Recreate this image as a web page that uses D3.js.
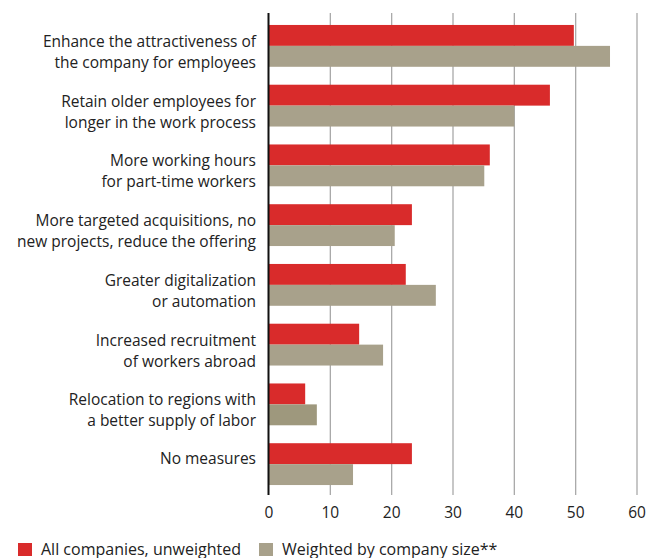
<!DOCTYPE html>
<html>
<head>
<meta charset="utf-8">
<script src="https://cdn.jsdelivr.net/npm/d3@7"></script>
<style>
  html, body { margin: 0; padding: 0; background: #fff; }
  svg { display: block; font-family: "Open Sans", "Noto Sans", sans-serif; }
</style>
</head>
<body>
<svg id="chart" width="648" height="558"></svg>
<script>
// Measures taken by companies (share of companies, %)
const categories = [
  ["Enhance the attractiveness of", "the company for employees"],
  ["Retain older employees for", "longer in the work process"],
  ["More working hours", "for part-time workers"],
  ["More targeted acquisitions, no", "new projects, reduce the offering"],
  ["Greater digitalization", "or automation"],
  ["Increased recruitment", "of workers abroad"],
  ["Relocation to regions with", "a better supply of labor"],
  ["No measures"]
];
const unweighted = [49.7, 45.8, 36.0, 23.3, 22.3, 14.7, 5.9, 23.3];
const weighted   = [55.6, 40.0, 35.1, 20.5, 27.2, 18.6, 7.8, 13.7];
const seriesNames = ["All companies, unweighted", "Weighted by company size**"];
const xTicks = [0, 10, 20, 30, 40, 50, 60];

const RED = "#d92b2b";
const TAUPE = "#a8a18b";

const svg = d3.select("#chart");
const x = d3.scaleLinear().domain([0, 60]).range([269, 637]);
const idx = d3.range(categories.length);
const y0 = d3.scaleBand().domain(idx).range([16, 494]).paddingInner(0.3).paddingOuter(0.15);
const y1 = d3.scaleBand().domain([0, 1]).range([0, y0.bandwidth()]);

// vertical gridlines
svg.append("g")
  .selectAll("line")
  .data(xTicks.filter(d => d > 0))
  .join("line")
  .attr("x1", d => x(d)).attr("x2", d => x(d))
  .attr("y1", 13).attr("y2", 495)
  .attr("stroke", "#a9a9a9").attr("stroke-width", 1.3);

// bars
const groups = svg.append("g")
  .selectAll("g")
  .data(idx)
  .join("g")
  .attr("transform", i => `translate(0,${y0(i)})`);

groups.append("rect")
  .attr("x", x(0)).attr("y", y1(0))
  .attr("width", i => x(unweighted[i]) - x(0))
  .attr("height", y1.bandwidth())
  .attr("fill", RED);

groups.append("rect")
  .attr("x", x(0)).attr("y", y1(1))
  .attr("width", i => x(weighted[i]) - x(0))
  .attr("height", y1.bandwidth())
  .attr("fill", i => i === 6 ? "#9e987d" : TAUPE);

// zero axis line
svg.append("line")
  .attr("x1", x(0) - 0.5).attr("x2", x(0) - 0.5)
  .attr("y1", 13).attr("y2", 495)
  .attr("stroke", "#111").attr("stroke-width", 2);

// category labels
const labels = svg.append("g")
  .attr("font-size", 15.5).attr("fill", "#222").attr("text-anchor", "end");
idx.forEach(i => {
  const c = y0(i) + y0.bandwidth() / 2;
  const lines = categories[i];
  const t = labels.append("text").attr("x", 256);
  if (lines.length === 1) {
    t.append("tspan").attr("x", 256).attr("y", c).text(lines[0]);
  } else {
    lines.forEach((s, k) => {
      t.append("tspan").attr("x", 256).attr("y", c + 1 + k * 21).text(s);
    });
  }
});

// x axis tick labels
svg.append("g")
  .attr("font-size", 15.5).attr("fill", "#222").attr("text-anchor", "middle")
  .selectAll("text")
  .data(xTicks)
  .join("text")
  .attr("x", d => x(d)).attr("y", 518)
  .text(d => d);

// legend
const legend = svg.append("g").attr("font-size", 16).attr("fill", "#222");
const legendX = [18, 259];
seriesNames.forEach((name, k) => {
  legend.append("rect")
    .attr("x", legendX[k]).attr("y", 543).attr("width", 14).attr("height", 13)
    .attr("fill", k === 0 ? RED : TAUPE);
  legend.append("text")
    .attr("x", legendX[k] + 23).attr("y", 555)
    .text(name);
});
</script>
</body>
</html>
